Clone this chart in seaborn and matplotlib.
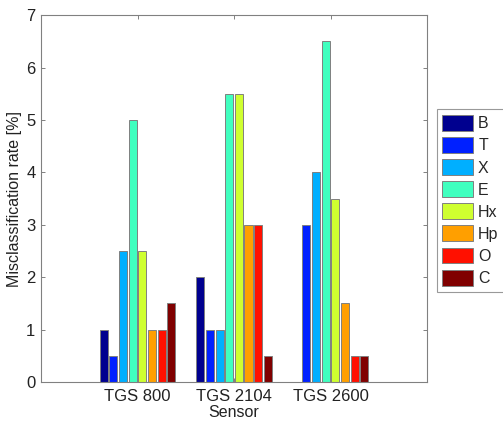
import matplotlib
matplotlib.use("Agg")
import matplotlib.pyplot as plt
import seaborn as sns
import pandas as pd

sensors = ["TGS 800", "TGS 2104", "TGS 2600"]
classes = ["B", "T", "X", "E", "Hx", "Hp", "O", "C"]
vals_800 = [1.0, 0.5, 2.5, 5.0, 2.5, 1.0, 1.0, 1.5]
vals_2104 = [2.0, 1.0, 1.0, 5.5, 5.5, 3.0, 3.0, 0.5]
vals_2600 = [0.0, 3.0, 4.0, 6.5, 3.5, 1.5, 0.5, 0.5]
colors = ["#00008F", "#0020FF", "#00AFFF", "#40FFBF", "#CFFF30", "#FF9F00", "#FF1000", "#800000"]

rows = []
for s, vals in zip(sensors, [vals_800, vals_2104, vals_2600]):
    for c, v in zip(classes, vals):
        rows.append({"Sensor": s, "Class": c, "Rate": v})
df = pd.DataFrame(rows)

sns.set_style("white")
plt.rcParams["font.family"] = ["Liberation Sans", "DejaVu Sans"]

fig = plt.figure(figsize=(5.03, 4.21), dpi=100)
ax = fig.add_axes([0.0815, 0.0926, 0.7675, 0.8714])

sns.barplot(data=df, x="Sensor", y="Rate", hue="Class", hue_order=classes,
            palette=colors, width=0.8, gap=0.17, edgecolor="#808080",
            linewidth=0.7, saturation=1, ax=ax, errorbar=None)

ax.set_xlim(-1, 3)
ax.set_ylim(0, 7)
ax.set_yticks(range(0, 8))
ax.set_xlabel("Sensor", fontsize=11.5, labelpad=1, color="#222222")
ax.set_ylabel("Misclassification rate [%]", fontsize=11.5, labelpad=3, color="#222222")
ax.tick_params(axis="both", direction="in", length=3, width=0.7, color="#808080",
               labelsize=12, labelcolor="#222222", top=True, right=True,
               left=True, bottom=True)
ax.tick_params(axis="x", pad=5)
ax.tick_params(axis="y", pad=4)
for sp in ax.spines.values():
    sp.set_visible(True)
    sp.set_color("#808080")
    sp.set_linewidth(0.8)

handles, labels = ax.get_legend_handles_labels()
ax.get_legend().remove()
leg = fig.legend(handles, labels, loc="upper left", bbox_to_anchor=(0.868, 0.74),
                 frameon=True, fancybox=False, fontsize=11.5, handlelength=1.95,
                 handleheight=1.15, handletextpad=0.3, labelspacing=0.36,
                 borderpad=0.35, borderaxespad=0)
leg.get_frame().set_edgecolor("#808080")
leg.get_frame().set_linewidth(0.8)

fig.savefig("out.png", dpi=100)
